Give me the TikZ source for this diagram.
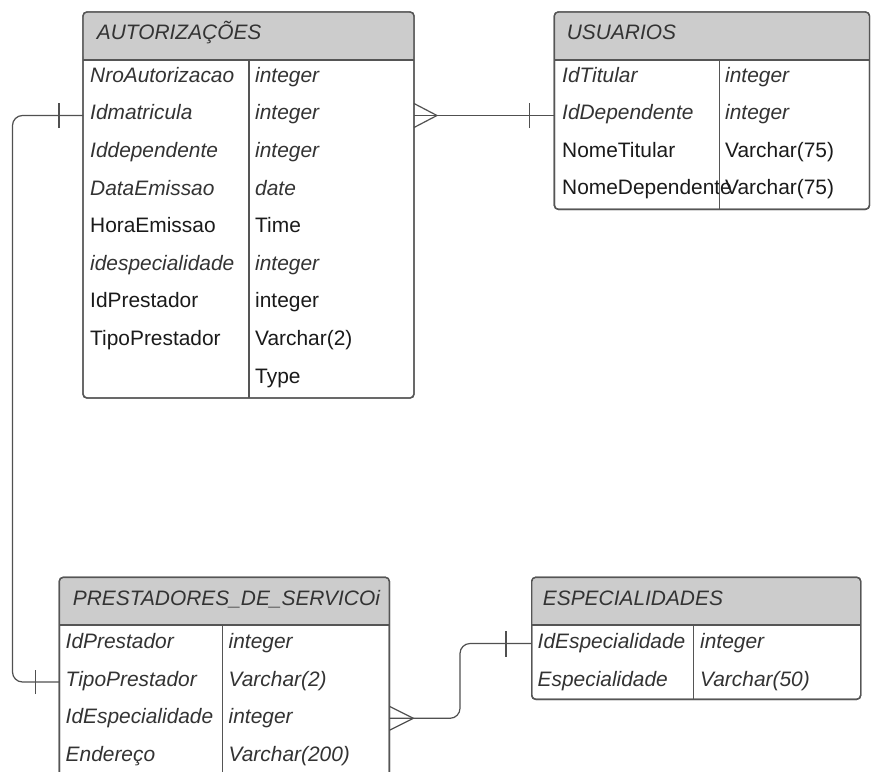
\documentclass[tikz,border=0pt]{standalone}
\usepackage{fontspec}
\setmainfont{Liberation Sans}
\definecolor{hdr}{HTML}{CCCCCC}
\definecolor{frame}{HTML}{555555}
\definecolor{conn}{HTML}{505050}
\definecolor{itc}{HTML}{333333}
\definecolor{upc}{HTML}{1A1A1A}
\newcommand\cellfont{\fontsize{20.9}{24}\selectfont}
\begin{document}
\begin{tikzpicture}[x=1pt,y=-1pt,
  cell/.style={anchor=base west, inner sep=0pt, font=\cellfont, text=upc},
  icell/.style={anchor=base west, inner sep=0pt, font=\cellfont\itshape, text=itc},
  boxline/.style={draw=frame, line width=1.4pt},
  conline/.style={draw=conn, line width=1.2pt},
  tbl/.style={draw=frame, line width=1.4pt, rounded corners=4pt, fill=white}]
\clip (0,0) rectangle (872,771);
\fill[white] (0,0) rectangle (872,771);

% ---------- AUTORIZACOES ----------
\path[tbl] (83,12) rectangle (414,398);
\fill[hdr, rounded corners=4pt] (83.7,12.7) rectangle (413.3,60);
\fill[hdr] (83.7,40) rectangle (413.3,60);
\draw[tbl, fill=none] (83,12) rectangle (414,398);
\draw[boxline] (83,60) -- (414,60);
\draw[boxline] (249,60) -- (249,398);
\node[icell] (autH) at (96.7,39.5) {AUTORIZAÇÕES};
\node[icell] (a1l) at (90,82.3) {NroAutorizacao};
\node[icell] (a1r) at (255,82.3) {integer};
\node[icell] (a2l) at (90,119.9) {Idmatricula};
\node[icell] (a2r) at (255,119.9) {integer};
\node[icell] (a3l) at (90,157.5) {Iddependente};
\node[icell] (a3r) at (255,157.5) {integer};
\node[icell] (a4l) at (90,195.1) {DataEmissao};
\node[icell] (a4r) at (255,195.1) {date};
\node[cell] (a5l) at (90,232.7) {HoraEmissao};
\node[cell] (a5r) at (255,232.7) {Time};
\node[icell] (a6l) at (90,270.3) {idespecialidade};
\node[icell] (a6r) at (255,270.3) {integer};
\node[cell] (a7l) at (90,307.9) {IdPrestador};
\node[cell] (a7r) at (255,307.9) {integer};
\node[cell] (a8l) at (90,345.5) {TipoPrestador};
\node[cell] (a8r) at (255,345.5) {Varchar(2)};
\node[cell] (a9r) at (255,383.1) {Type};

% ---------- USUARIOS ----------
\path[tbl] (554.3,12) rectangle (869.5,209.3);
\fill[hdr, rounded corners=4pt] (555,12.7) rectangle (868.8,60);
\fill[hdr] (555,40) rectangle (868.8,60);
\draw[tbl, fill=none] (554.3,12) rectangle (869.5,209.3);
\draw[boxline] (554.3,60) -- (869.5,60);
\node[icell] (usuH) at (566.7,39.5) {USUARIOS};
\node[icell] (u1l) at (562,82) {IdTitular};
\node[icell] (u1r) at (725,82) {integer};
\node[icell] (u2l) at (562,119.5) {IdDependente};
\node[icell] (u2r) at (725,119.5) {integer};
\node[cell] (u3l) at (562,157) {NomeTitular};
\node[cell] (u3r) at (725,157) {Varchar(75)};
\node[cell] (u4l) at (562,194.5) {NomeDependente};
\node[cell] (u4r) at (725,194.5) {Varchar(75)};
\draw[boxline] (719.3,60) -- (719.3,209.3);

% ---------- PRESTADORES ----------
\path[tbl] (59.3,577.3) rectangle (389.3,800);
\fill[hdr, rounded corners=4pt] (60,578) rectangle (388.6,625);
\fill[hdr] (60,600) rectangle (388.6,625);
\draw[tbl, fill=none] (59.3,577.3) rectangle (389.3,800);
\draw[boxline] (59.3,625) -- (389.3,625);
\draw[boxline] (222.7,625) -- (222.7,800);
\node[icell] (preH) at (72.7,605) {PRESTADORES\_DE\_SERVICOi};
\node[icell] (p1l) at (65.5,648.3) {IdPrestador};
\node[icell] (p1r) at (228.5,648.3) {integer};
\node[icell] (p2l) at (65.5,686) {TipoPrestador};
\node[icell] (p2r) at (228.5,686) {Varchar(2)};
\node[icell] (p3l) at (65.5,723.5) {IdEspecialidade};
\node[icell] (p3r) at (228.5,723.5) {integer};
\node[icell] (p4l) at (65.5,761) {Endereço};
\node[icell] (p4r) at (228.5,761) {Varchar(200)};

% ---------- ESPECIALIDADES ----------
\path[tbl] (531.7,577.3) rectangle (860.7,699.3);
\fill[hdr, rounded corners=4pt] (532.4,578) rectangle (860,625);
\fill[hdr] (532.4,600) rectangle (860,625);
\draw[tbl, fill=none] (531.7,577.3) rectangle (860.7,699.3);
\draw[boxline] (531.7,625) -- (860.7,625);
\draw[boxline] (693.3,625) -- (693.3,699.3);
\node[icell] (espH) at (542.7,605) {ESPECIALIDADES};
\node[icell] (e1l) at (537.5,648.3) {IdEspecialidade};
\node[icell] (e1r) at (700,648.3) {integer};
\node[icell] (e2l) at (537.5,686) {Especialidade};
\node[icell] (e2r) at (700,686) {Varchar(50)};

% ---------- connector anchors ----------
\coordinate (autR) at (414,115.5);
\coordinate (usuL) at (554.3,115.5);
\coordinate (autL) at (83,115.5);
\coordinate (preL) at (59.3,682);
\coordinate (preR) at (389.3,718.3);
\coordinate (espL) at (531.7,643.5);
\coordinate (bendA) at (12.5,115.5);
\coordinate (bendB) at (12.5,682);
\coordinate (bendC) at (460,718.3);
\coordinate (bendD) at (460,643.5);

% AUTORIZACOES -> USUARIOS
\draw[conline] (autR) -- (usuL);
\draw[conline] ([yshift=-12pt]autR) -- ([xshift=23pt]autR) -- ([yshift=12pt]autR);
\draw[conline] ([xshift=-25pt,yshift=-12.5pt]usuL) -- ([xshift=-25pt,yshift=12.5pt]usuL);

% AUTORIZACOES -> PRESTADORES
\draw[conline, rounded corners=10pt] (autL) -- (bendA) -- (bendB) -- (preL);
\draw[conline] ([xshift=-24pt,yshift=-12.5pt]autL) -- ([xshift=-24pt,yshift=12.5pt]autL);
\draw[conline] ([xshift=-23.5pt,yshift=-12pt]preL) -- ([xshift=-23.5pt,yshift=12pt]preL);

% PRESTADORES -> ESPECIALIDADES
\draw[conline, rounded corners=10pt] (preR) -- (bendC) -- (bendD) -- (espL);
\draw[conline] ([yshift=-12pt]preR) -- ([xshift=24pt]preR) -- ([yshift=12pt]preR);
\draw[conline] ([xshift=-25.7pt,yshift=-13pt]espL) -- ([xshift=-25.7pt,yshift=13pt]espL);
\end{tikzpicture}
\end{document}
